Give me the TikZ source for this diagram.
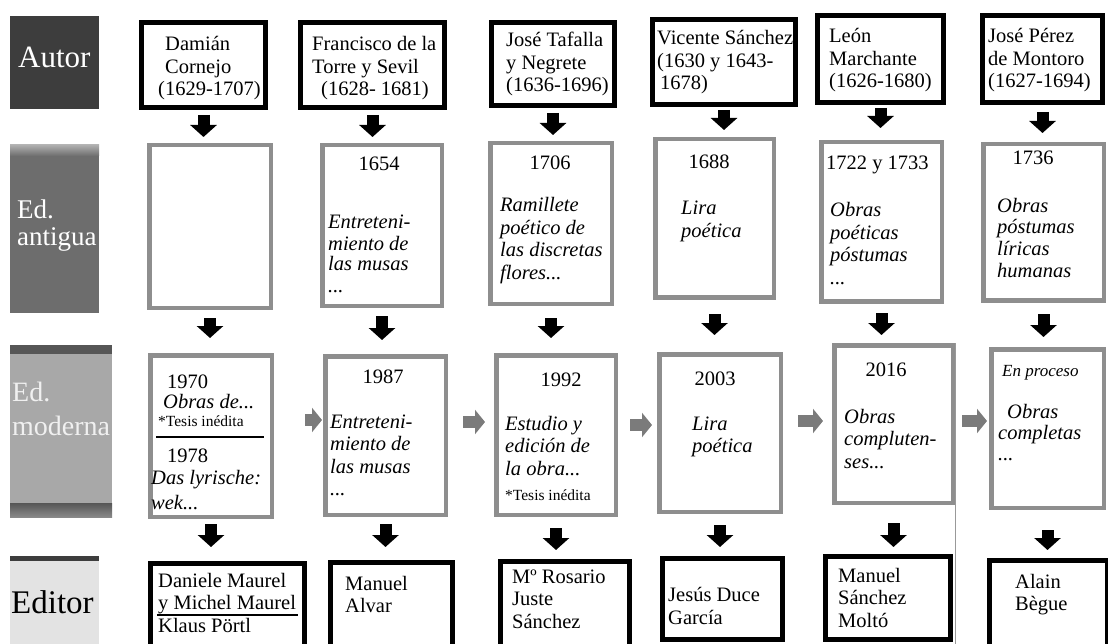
\documentclass[tikz,border=0pt]{standalone}
\usepackage{fontspec}
\setmainfont{Liberation Serif}
\usetikzlibrary{arrows.meta, positioning, calc}
\usepackage{xcolor}
\definecolor{autorgris}{HTML}{3D3D3D}
\definecolor{antgris}{HTML}{6D6D6D}
\definecolor{modgris}{HTML}{A8A8A8}
\definecolor{modbanda}{HTML}{565656}
\definecolor{edgris}{HTML}{E3E3E3}
\definecolor{cajagris}{HTML}{8E8E8E}
\definecolor{flechagris}{HTML}{7B7B7B}

\begin{document}
\begin{tikzpicture}[x=1pt, y=-1pt,
    autorbox/.style={draw=black, line width=5pt, fill=white, inner sep=0pt},
    edicbox/.style={draw=cajagris, line width=4.5pt, fill=white, inner sep=0pt},
    txt/.style={inner sep=0pt, anchor=base west, align=left, font=\fontsize{20.5}{22.5}\selectfont},
    tit/.style={txt, font=\fontsize{20.5}{22.5}\selectfont\itshape},
    nota/.style={inner sep=0pt, anchor=base west, font=\fontsize{15.5}{18}\selectfont},
    rotulo/.style={inner sep=0pt, anchor=base west, align=left},
    bajar/.style={line width=12pt, -{Triangle[width=26pt,length=12pt]}},
    pasar/.style={line width=12pt, flechagris, -{Triangle[width=24pt,length=10pt]}}
  ]
  \useasboundingbox (0,0) rectangle (1108,644);
  \clip (0,0) rectangle (1108,644);

  \fill[autorgris] (10,16) rectangle (99,109);
  \node[rotulo, text=white, font=\fontsize{31}{31}\selectfont] (lautor) at (18,68) {Autor};
  \fill[antgris] (10,145) rectangle (99,313);
  \shade[top color=antgris!55, bottom color=antgris] (10,145) rectangle (99,156);
  \node[rotulo, text=white, font=\fontsize{27}{27}\selectfont] (lant) at (17,246) {Ed.\\antigua};
  \fill[modgris] (10,345) rectangle (112,517);
  \fill[modbanda] (10,345) rectangle (112,354);
  \shade[top color=modbanda, bottom color=modbanda!70] (10,503) rectangle (112,517);
  \node[rotulo, text=white!94!black, font=\fontsize{28}{34}\selectfont] (lmod) at (12,435) {Ed.\\moderna};
  \fill[edgris] (10,559) rectangle (99,650);
  \fill[autorgris] (10,556) rectangle (99,561);
  \node[rotulo, font=\fontsize{33}{33}\selectfont] (ledit) at (11,613) {Editor};

  \node[autorbox, minimum width=124pt, minimum height=85pt] (A1) at (203.5,65) {};
  \node[autorbox, minimum width=144pt, minimum height=85pt] (A2) at (372.5,65) {};
  \node[autorbox, minimum width=123pt, minimum height=83pt] (A3) at (553,64) {};
  \node[autorbox, minimum width=143pt, minimum height=85pt] (A4) at (724,62) {};
  \node[autorbox, minimum width=126pt, minimum height=87pt] (A5) at (880.5,59) {};
  \node[autorbox, minimum width=120pt, minimum height=87pt] (A6) at (1042.5,59) {};

  \node[edicbox, minimum width=121.5pt, minimum height=162.5pt] (B1) at (210,226.5) {};
  \node[edicbox, minimum width=119.5pt, minimum height=160.5pt] (B2) at (382,225.5) {};
  \node[edicbox, minimum width=121.5pt, minimum height=160.5pt] (B3) at (551,223.5) {};
  \node[edicbox, minimum width=118.5pt, minimum height=158.5pt] (B4) at (714.5,218.5) {};
  \node[edicbox, minimum width=120.5pt, minimum height=159.5pt] (B5) at (881.5,222) {};
  \node[edicbox, minimum width=120.5pt, minimum height=156.5pt] (B6) at (1043.5,222.5) {};

  \node[edicbox, minimum width=121.5pt, minimum height=161.5pt] (C1) at (211,436) {};
  \node[edicbox, minimum width=120.5pt, minimum height=158.5pt] (C2) at (385.5,435.5) {};
  \node[edicbox, minimum width=119.5pt, minimum height=159.5pt] (C3) at (556,435) {};
  \node[edicbox, minimum width=121.5pt, minimum height=157.5pt] (C4) at (720,433) {};
  \node[edicbox, minimum width=118.5pt, minimum height=157.5pt] (C5) at (893.5,424) {};
  \node[edicbox, minimum width=112.5pt, minimum height=158.5pt] (C6) at (1047.5,428.5) {};

  \node[autorbox, minimum width=154pt, minimum height=104pt] (D1) at (227.5,615.5) {};
  \node[autorbox, minimum width=122pt, minimum height=105pt] (D2) at (391.5,615) {};
  \node[autorbox, minimum width=129pt, minimum height=106pt] (D3) at (565,614.5) {};
  \node[autorbox, minimum width=120pt, minimum height=81pt] (D4) at (722.5,599) {};
  \node[autorbox, minimum width=125pt, minimum height=83pt] (D5) at (888,598) {};
  \node[autorbox, minimum width=118pt, minimum height=107pt] (D6) at (1048.5,614) {};

  \coordinate (pie) at (956,644);
  \draw[line width=0.8pt, black!40] (C5.north east) -- (C5.north east |- pie);

  \node[txt] (t1) at (165,96) {Damián\\Cornejo\\\hspace*{-7pt}(1629-1707)};
  \node[txt] (t2) at (312,96) {Francisco de la\\Torre y Sevil\\\hspace*{9pt}(1628- 1681)};
  \node[txt] (t3) at (506,92) {José Tafalla\\y Negrete\\(1636-1696)};
  \node[txt] (t4) at (657,90) {Vicente Sánchez\\(1630 y 1643-\\\hspace*{3pt}1678)};
  \node[txt] (t5) at (829,88) {León\\Marchante\\(1626-1680)};
  \node[txt] (t6) at (988,88) {José Pérez\\de Montoro\\(1627-1694)};

  \node[txt, anchor=base] (y2) at (379,171) {1654};
  \node[tit, font=\fontsize{20.5}{21}\selectfont\itshape] (o2) at (328,292) {Entreteni-\\miento de\\las musas\\...};
  \node[txt, anchor=base] (y3) at (550,170) {1706};
  \node[tit] (o3) at (500,279.5) {Ramillete\\poético de\\las discretas\\flores...};
  \node[txt, anchor=base] (y4) at (709,169) {1688};
  \node[tit] (o4) at (681,237.5) {Lira\\poética};
  \node[txt] (y5) at (826,170) {1722 y 1733};
  \node[tit] (o5) at (830,284.5) {Obras\\poéticas\\póstumas\\...};
  \node[txt, anchor=base] (y6) at (1033,165) {1736};
  \node[tit, font=\fontsize{20.5}{22}\selectfont\itshape] (o6) at (997,278) {Obras\\póstumas\\líricas\\humanas};

  \node[txt] (y7) at (167,388) {1970};
  \node[tit] (o7) at (163,408) {Obras de...};
  \node[nota] (n7) at (158,426) {*Tesis inédita};
  \draw[line width=2.5pt] (156,437) -- (264,437);
  \node[txt] (y8) at (167,462) {1978};
  \node[tit] (o8) at (151,509.5) {Das lyrische:\\[3pt]wek...};
  \node[txt, anchor=base] (y9) at (383,383) {1987};
  \node[tit] (o9) at (330,495.5) {Entreteni-\\miento de\\las musas\\...};
  \node[txt, anchor=base] (y10) at (561,386) {1992};
  \node[tit] (o10) at (505,475) {Estudio y\\edición de\\la obra...};
  \node[nota] (n10) at (505,500) {*Tesis inédita};
  \node[txt, anchor=base] (y11) at (715,385) {2003};
  \node[tit] (o11) at (692,452.5) {Lira\\poética};
  \node[txt, anchor=base] (y12) at (886,376) {2016};
  \node[tit] (o12) at (844,468) {Obras\\compluten-\\ses...};
  \node[tit, font=\fontsize{17}{20}\selectfont\itshape] (y13) at (1002,376) {En proceso};
  \node[tit, font=\fontsize{20.5}{21}\selectfont\itshape] (o13) at (998,460) {\hspace*{9pt}Obras\\completas\\...};

  \node[txt] (e1) at (158,632) {Daniele Maurel\\y Michel Maurel\\Klaus Pörtl};
  \draw[line width=2.5pt] (157,615) -- (298,615);
  \node[txt] (e2) at (345,612.5) {Manuel\\Alvar};
  \node[txt] (e3) at (512,628) {Mº Rosario\\Juste\\Sánchez};
  \node[txt] (e4) at (668,624) {Jesús Duce\\García};
  \node[txt] (e5) at (838,627) {Manuel\\Sánchez\\Moltó};
  \node[txt] (e6) at (1015,610.5) {Alain\\Bègue};

  \draw[bajar, shorten <=5pt, shorten >=6pt] (A1.south) -- (A1.south |- B1.north);
  \draw[bajar, shorten <=5pt, shorten >=6pt] (A2.south) -- (A2.south |- B2.north);
  \draw[bajar, shorten <=5pt, shorten >=6pt] (A3.south) -- (A3.south |- B3.north);
  \draw[bajar, shorten <=3pt, shorten >=7pt] (A4.south) -- (A4.south |- B4.north);
  \draw[bajar, shorten <=3pt, shorten >=12pt] (A5.south) -- (A5.south |- B5.north);
  \draw[bajar, shorten <=7pt, shorten >=9pt] (A6.south) -- (A6.south |- B6.north);

  \draw[bajar, shorten <=8pt, shorten >=15pt] (B1.south) -- (B1.south |- C1.north);
  \draw[bajar, shorten <=8pt, shorten >=14pt] (B2.south) -- (B2.south |- C2.north);
  \draw[bajar, shorten <=12pt, shorten >=15pt] (B3.south) -- (B3.south |- C3.north);
  \draw[bajar, shorten <=14pt, shorten >=17pt] (B4.south) -- (B4.south |- C4.north);
  \draw[bajar, shorten <=9pt, shorten >=8pt] (B5.south) -- (B5.south |- C5.north);
  \draw[bajar, shorten <=11pt, shorten >=10pt] (B6.south) -- (B6.south |- C6.north);

  \draw[bajar, shorten <=5pt, shorten >=14pt] (C1.south) -- (C1.south |- D1.north);
  \draw[bajar, shorten <=7pt, shorten >=13pt] (C2.south) -- (C2.south |- D2.north);
  \draw[bajar, shorten <=11pt, shorten >=9pt] (C3.south) -- (C3.south |- D3.north);
  \draw[bajar, shorten <=11pt, shorten >=9pt] (C4.south) -- (C4.south |- D4.north);
  \draw[bajar, shorten <=18pt, shorten >=7pt] (C5.south) -- (C5.south |- D5.north);
  \draw[bajar, shorten <=20pt, shorten >=8pt] (C6.south) -- (C6.south |- D6.north);

  \draw[pasar, shorten <=31pt, shorten >=1pt] ([yshift=16pt]C1.east) -- ([yshift=16pt]C1.east -| C2.west);
  \draw[pasar, shorten <=15pt, shorten >=9pt] ([yshift=13.5pt]C2.east) -- ([yshift=13.5pt]C2.east -| C3.west);
  \draw[pasar, shorten <=12pt, shorten >=5pt] ([yshift=10pt]C3.east) -- ([yshift=10pt]C3.east -| C4.west);
  \draw[pasar, shorten <=15pt, shorten >=9pt] ([yshift=12pt]C4.east) -- ([yshift=12pt]C4.east -| C5.west);
  \draw[pasar, shorten <=7pt, shorten >=2pt] ([yshift=3pt]C5.east) -- ([yshift=3pt]C5.east -| C6.west);
\end{tikzpicture}
\end{document}
